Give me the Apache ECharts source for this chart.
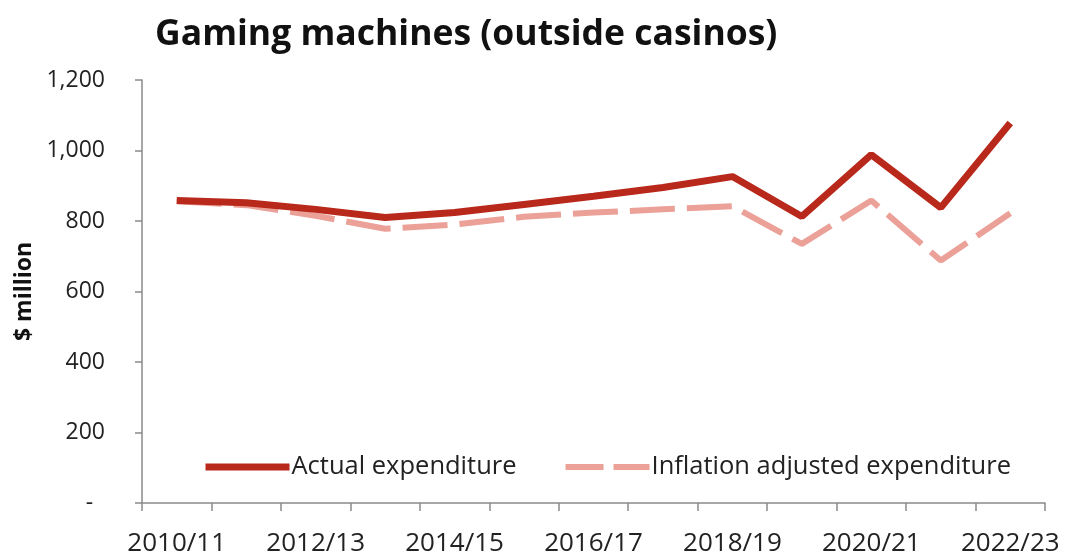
<!DOCTYPE html>
<html>
<head>
<meta charset="utf-8">
<script src="https://cdn.jsdelivr.net/npm/echarts@6/dist/echarts.min.js"></script>
<style>
  html, body { margin: 0; padding: 0; background: #ffffff; }
  #chart { width: 1067px; height: 557px; }
</style>
</head>
<body>
<div id="chart"></div>
<script>
// Financial years shown on the category axis
const years = ['2010/11', '2011/12', '2012/13', '2013/14', '2014/15', '2015/16', '2016/17',
               '2017/18', '2018/19', '2019/20', '2020/21', '2021/22', '2022/23'];

// Expenditure on gaming machines outside casinos, $ million
const actualExpenditure = [858, 852, 833, 810, 824, 847, 870, 895, 926, 813, 988, 838, 1078];
const inflationAdjusted = [856, 845, 815, 778, 790, 812, 824, 833, 842, 735, 858, 688, 822];

// Value axis tick labels (zero is shown as a dash)
const yTickLabels = { 0: '-  ', 200: '200', 400: '400', 600: '600', 800: '800', 1000: '1,000', 1200: '1,200' };

const font = '"Open Sans", "Liberation Sans", sans-serif';
const actualColor = '#b8281b';
const adjustedColor = '#eba098';
const axisColor = '#8a8a8a';

const chart = echarts.init(document.getElementById('chart'));

chart.setOption({
  animation: false,
  backgroundColor: '#ffffff',
  title: {
    text: 'Gaming machines (outside casinos)',
    left: 150,
    top: 12,
    textStyle: { fontFamily: font, fontSize: 35.5, fontWeight: 'bold', color: '#111111' }
  },
  grid: { left: 142, right: 22, top: 80, bottom: 52 },
  legend: {
    left: 202,
    top: 454,
    padding: 0,
    itemWidth: 84,
    itemHeight: 14,
    itemGap: 46,
    textStyle: { fontFamily: font, fontSize: 25.5, color: '#222222', padding: [0, 0, 0, -3] },
    data: [
      {
        name: 'Actual expenditure',
        itemStyle: { color: 'rgba(0,0,0,0)', borderWidth: 0 },
        lineStyle: { color: actualColor, width: 7, type: 'solid' }
      },
      {
        name: 'Inflation adjusted expenditure',
        itemStyle: { color: 'rgba(0,0,0,0)', borderWidth: 0 },
        lineStyle: { color: adjustedColor, width: 6, type: [38, 10] }
      }
    ]
  },
  xAxis: {
    type: 'category',
    data: years,
    boundaryGap: true,
    axisLine: { show: true, lineStyle: { color: axisColor, width: 1.5 } },
    axisTick: { show: true, interval: 0, length: 8, lineStyle: { color: axisColor, width: 1.5 } },
    axisLabel: {
      interval: 1,
      margin: 28,
      fontFamily: font,
      fontSize: 26,
      color: '#222222'
    },
    splitLine: { show: false }
  },
  yAxis: {
    type: 'value',
    min: 0,
    max: 1200,
    interval: 200,
    name: '$ million',
    nameLocation: 'middle',
    nameGap: 105,
    nameTextStyle: { fontFamily: font, fontSize: 23, fontWeight: 'bold', color: '#111111' },
    axisLine: { show: true, lineStyle: { color: axisColor, width: 1.5 } },
    axisTick: { show: true, inside: false, length: 7, lineStyle: { color: axisColor, width: 1.5 } },
    axisLabel: {
      margin: 37,
      fontFamily: font,
      fontSize: 23,
      color: '#222222',
      formatter: v => yTickLabels[v] !== undefined ? yTickLabels[v] : String(v)
    },
    splitLine: { show: false }
  },
  series: [
    {
      name: 'Inflation adjusted expenditure',
      type: 'line',
      data: inflationAdjusted,
      symbol: 'none',
      z: 2,
      lineStyle: { color: adjustedColor, width: 6, type: [45, 12] },
      itemStyle: { color: adjustedColor }
    },
    {
      name: 'Actual expenditure',
      type: 'line',
      data: actualExpenditure,
      symbol: 'none',
      z: 3,
      lineStyle: { color: actualColor, width: 7 },
      itemStyle: { color: actualColor }
    }
  ]
});
</script>
</body>
</html>
